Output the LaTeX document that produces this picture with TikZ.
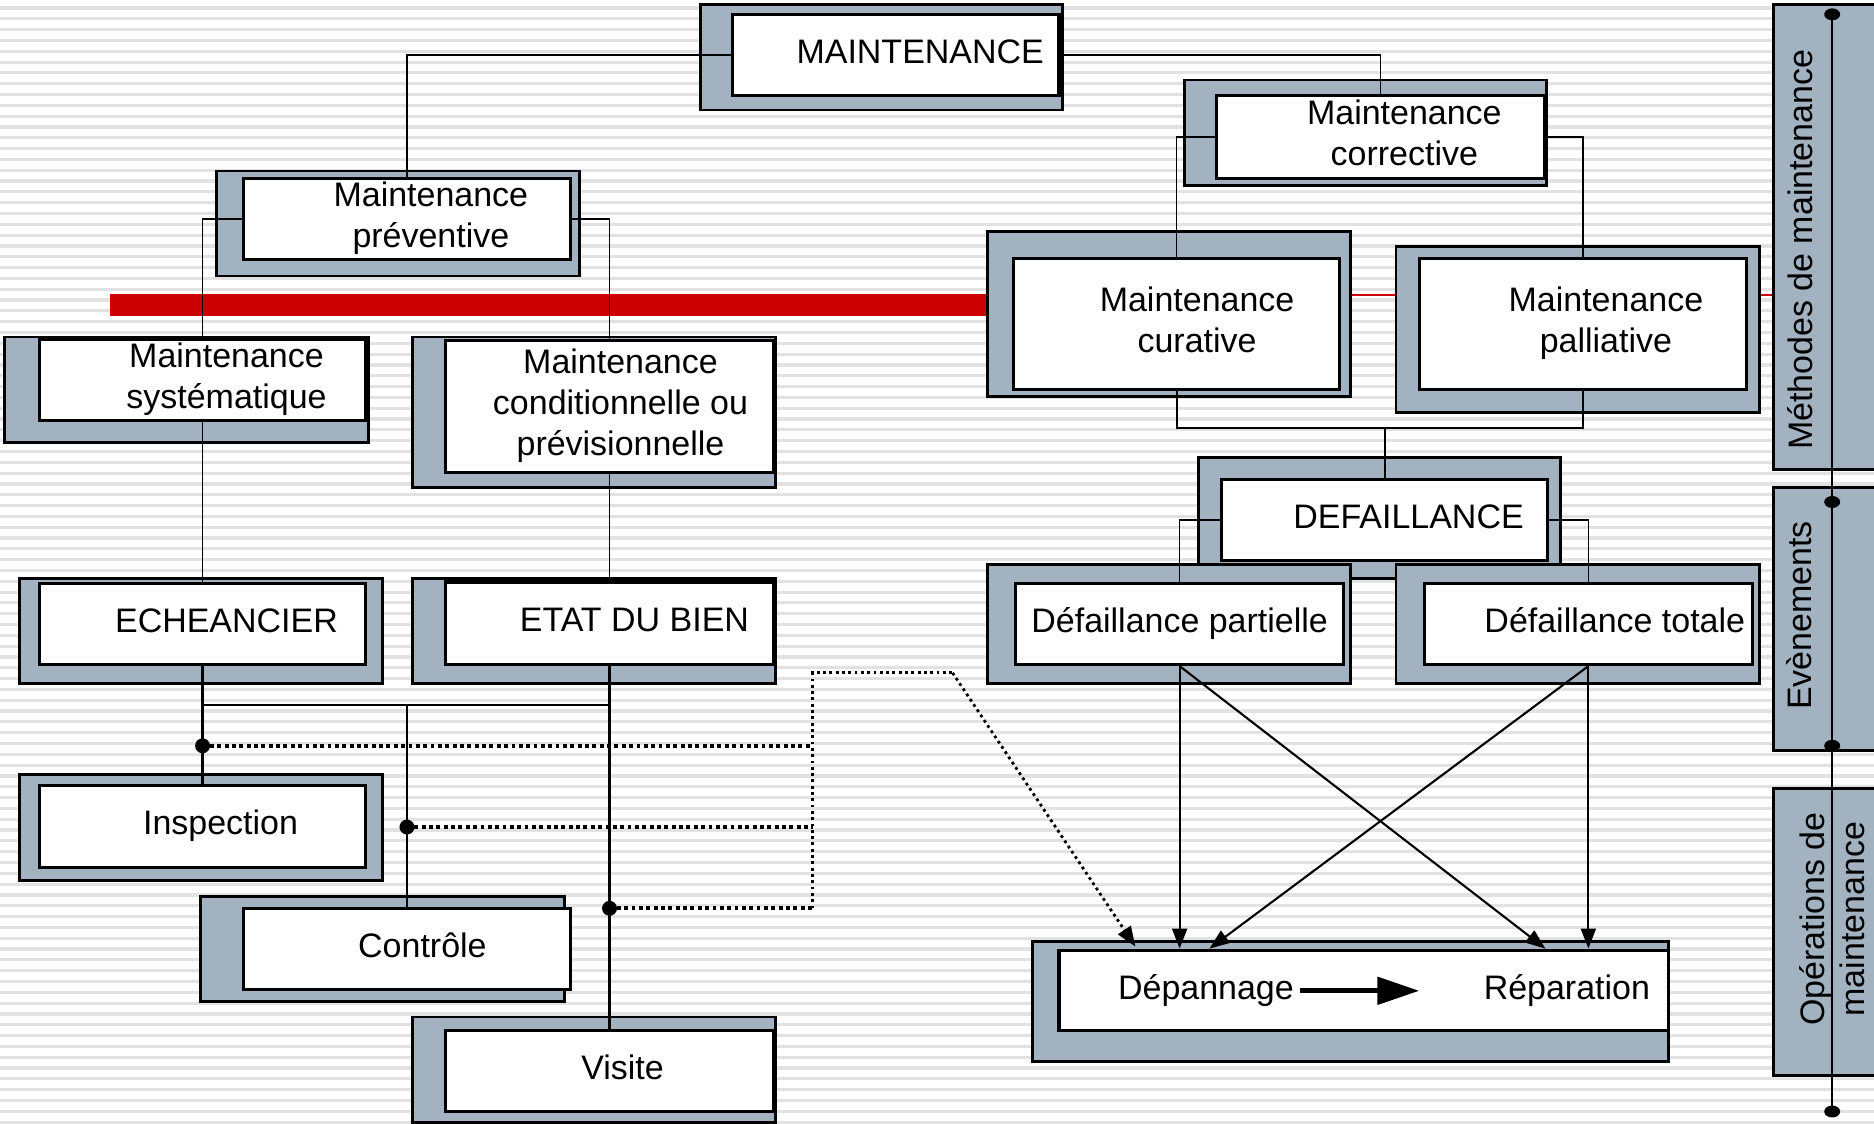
\documentclass[tikz,border=0pt]{standalone}
\usepackage{fontspec}
\setmainfont{Liberation Sans}
\usetikzlibrary{arrows.meta,calc}
\definecolor{slate}{RGB}{163,178,193}
\definecolor{stripe}{RGB}{226,226,226}
\definecolor{barred}{RGB}{204,0,0}
\newcommand{\px}{0.012cm}
\newcommand{\btext}[2][0.48cm]{\hspace*{#1}\raisebox{-0.8pt}{\begin{tabular}{@{}c@{}}#2\end{tabular}}}
\tikzstyle{back} = [
    draw,
    fill = slate,
    line width = 0.8pt
]
\tikzstyle{level} = [
    rectangle,
    draw,
    fill = white,
    line width = 0.9pt,
    inner sep = 0pt,
    minimum width = 273*\px,
    minimum height = 68*\px
]
\tikzstyle{link} = [line width = 0.45pt]
\tikzstyle{tap} = [densely dotted, line width = 1.1pt]
\tikzstyle{flow} = [line width = 0.6pt, -{Triangle[length = 0.2cm, width = 0.15cm]}]
\begin{document}
\begin{tikzpicture}[x = 0.012cm, y = -0.012cm, font = \fontsize{9.7}{11.6}\selectfont]

                \useasboundingbox (0,0) rectangle (1568,940);
                \clip (0,0) rectangle (1568,940);
                \fill [white] (0,0) rectangle (1568,940);
                \foreach \k in {0,...,104}
                    \draw [stripe, line width = 0.9pt] (0,6.7+9.05*\k) -- (1568,6.7+9.05*\k);

                % red bar
                \fill [barred] (92,246) rectangle (826,264);
                \draw [barred, line width = 0.6pt] (826,246.5) -- (1484,246.5);

                % column on the right
                \draw [back] (1484,4) rectangle (1590,393);
                \draw [back] (1484,408) rectangle (1590,628);
                \draw [back] (1484,660) rectangle (1590,900);
                \node [rotate = 90] (methodes) at (1506,209) {Méthodes de maintenance};
                \node [rotate = 90] (evenements) at (1505,515) {Evènements};
                \node [rotate = 90, align = center] (operations) at (1533,769) {Opérations de\\maintenance};
                \coordinate (c1) at (1533,12);
                \coordinate (c2) at (1533,420);
                \coordinate (c3) at (1533,624);
                \coordinate (c4) at (1533,930);
                \draw [line width = 0.7pt] (c1) -- (c4);
                \foreach \c in {c1,c2,c3,c4}
                    \fill (\c) ellipse [x radius = 0.08cm, y radius = 0.06cm];

                % top
                \draw [back] (586,4) rectangle (889,92);
                \node [level] (main) at (749.5,46) {\btext[0.49cm]{MAINTENANCE}};

                % preventive
                \draw [back] (181,143) rectangle (485,231);
                \node [level, minimum height = 66*\px] (prev) at (340.5,183) {\btext{Maintenance\\préventive}};

                \draw [back] (4,282) rectangle (308,370);
                \node [level] (syst) at (169.5,318) {\btext{Maintenance\\systématique}};

                \draw [back] (345,282) rectangle (649,408);
                \node [level, minimum width = 274*\px, minimum height = 110*\px] (cond) at (510,340) {\btext[0.22cm]{Maintenance\\conditionnelle ou\\prévisionnelle}};

                \draw [back] (16,484) rectangle (320,572);
                \node [level] (ech) at (169.5,522) {\btext{ECHEANCIER}};

                \draw [back] (345,484) rectangle (649,572);
                \node [level, minimum width = 274*\px, minimum height = 69*\px] (etat) at (510,521.5) {\btext[0.5cm]{ETAT DU BIEN}};

                \draw [back] (16,648) rectangle (320,737);
                \node [level, minimum height = 69*\px] (insp) at (169.5,691.5) {\btext[0.36cm]{Inspection}};

                \draw [back] (168,750) rectangle (472,838);
                \node [level] (ctrl) at (340.5,794) {\btext[0.31cm]{Contrôle}};

                \draw [back] (345,851) rectangle (649,939);
                \node [level, minimum width = 274*\px] (vis) at (510,896) {\btext[0.26cm]{Visite}};

                % corrective
                \draw [back] (991,67) rectangle (1294,155);
                \node [level, minimum width = 274*\px, minimum height = 69*\px] (corr) at (1155,114.5) {\btext{Maintenance\\corrective}};

                \draw [back] (826,194) rectangle (1130,332);
                \node [level, minimum height = 110*\px] (cur) at (984.5,271) {\btext[0.41cm]{Maintenance\\curative}};

                \draw [back] (1168,206) rectangle (1472,345);
                \node [level, minimum height = 110*\px] (pal) at (1324.5,271) {\btext[0.46cm]{Maintenance\\palliative}};

                \draw [back] (1003,383) rectangle (1306,484);
                \node [level] (def) at (1158.5,435) {\btext{DEFAILLANCE}};

                \draw [back] (826,472) rectangle (1130,572);
                \node [level, minimum width = 274*\px] (part) at (987,522) {\btext[0pt]{Défaillance partielle}};

                \draw [back] (1168,472) rectangle (1472,572);
                \node [level, minimum width = 274*\px] (tot) at (1329,522) {\btext[0.53cm]{Défaillance totale}};

                \draw [back] (864,788) rectangle (1396,888);
                \node [level, minimum width = 510*\px, minimum height = 67*\px] (oper) at (1141,828.5) {};
                \node [inner sep = 0pt] (dep) at (1009,829) {Dépannage};
                \node [inner sep = 0pt] (rep) at (1311,829) {Réparation};
                \draw [line width = 1.5pt, -{Triangle[length = 0.42cm, width = 0.27cm]}, shorten < = 0.06cm, shorten > = 0.64cm] (dep.east) -- (rep.west);

                % links
                \draw [link] (main.west) -| (prev.north);
                \draw [link] (main.east) -| (corr.north);
                \draw [link] (prev.west) -| (syst.north);
                \draw [link] (prev.east) -| (cond.north);
                \draw [link] (syst.south) -- (ech.north);
                \draw [link] (cond.south) -- (etat.north);
                \draw [link] (corr.west) -| (cur.north);
                \draw [link] (corr.east) -| (pal.north);
                \coordinate (fork) at (1158.5,358);
                \draw [link, line width = 0.6pt] (cur.south) |- (fork) -| (pal.south);
                \draw [link, line width = 0.6pt] (fork) -- (def.north);
                \draw [link] (def.west) -| (part.north);
                \draw [link] (def.east) -| (tot.north);

                % operations
                \coordinate (busL) at (169.5,590);
                \coordinate (busR) at (510,590);
                \draw [line width = 0.7pt] (ech.south) -- (insp.north);
                \draw [line width = 0.7pt] (etat.south) -- (vis.north);
                \draw [line width = 0.7pt] (busL) -- (busR);
                \draw [line width = 0.7pt] (ctrl.north |- busL) -- (ctrl.north);
                \coordinate (dotA) at (169.5,624);
                \coordinate (dotB) at (340.5,692);
                \coordinate (dotC) at (510,760);
                \coordinate (tapTop) at (680,563);
                \coordinate (tapBend) at (797,563);
                \coordinate (tapEnd) at (950,792);
                \foreach \d in {dotA,dotB,dotC} {
                    \fill (\d) circle [radius = 0.075cm];
                    \draw [tap] (\d) -- (\d -| tapTop);
                }
                \draw [densely dotted, line width = 0.8pt] (dotC -| tapTop) -- (tapTop) -- (tapBend);
                \draw [densely dotted, line width = 0.8pt, -{Triangle[length = 0.2cm, width = 0.15cm]}] (tapBend) -- (tapEnd);

                % failures to operations
                \draw [flow] (part.south) -- (part.south |- oper.north);
                \draw [flow] (part.south) -- ($(rep |- oper.north)+(-18,0)$);
                \draw [flow] (tot.south) -- (tot.south |- oper.north);
                \draw [flow] (tot.south) -- ($(dep |- oper.north)+(3,0)$);

\end{tikzpicture}
\end{document}
